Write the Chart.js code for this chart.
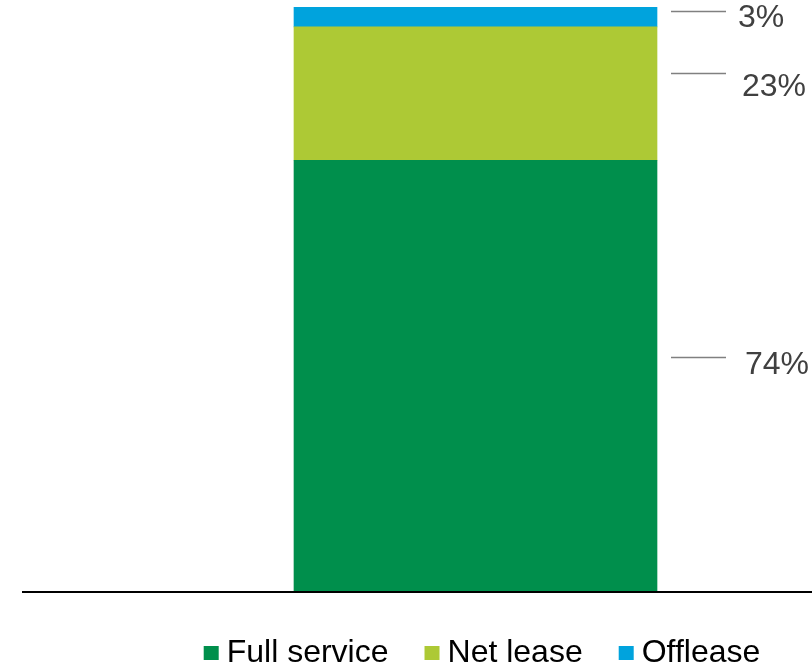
<!DOCTYPE html>
<html>
<head>
<meta charset="utf-8">
<script src="https://cdn.jsdelivr.net/npm/chart.js@4/dist/chart.umd.min.js"></script>
<style>
  html, body { margin: 0; padding: 0; background: #fff; }
  #wrap { width: 812px; height: 667px; position: relative; }
</style>
</head>
<body>
<div id="wrap"><canvas id="mixChart"></canvas></div>
<script>
// data
var categories = ["Mix"];
var seriesNames = ["Full service", "Net lease", "Offlease"];
var seriesValues = [[73.8], [22.8], [3.4]];
var seriesColors = ["#008F4C", "#ADC935", "#00A3DD"];
var valueLabels = ["74%", "23%", "3%"];

// leader line / label tweaks per segment (px)
var lineShift = [-19, -21, -6];
var textShift = [8, 14, 7];
var textGap = [88, 85, 81];

var datasets = [];
for (var i = 0; i < seriesNames.length; i++) {
    datasets.push({
        label: seriesNames[i],
        data: seriesValues[i],
        backgroundColor: seriesColors[i],
        hoverBackgroundColor: seriesColors[i],
        borderWidth: 0,
        barThickness: 363
    });
}

var FONT = "'Liberation Sans', Arial, sans-serif";

var sideLabels = {
    id: "sideLabels",
    afterDatasetsDraw: function (chart) {
        var ctx = chart.ctx;
        var y = chart.scales.y;
        var area = chart.chartArea;

        // baseline
        ctx.save();
        ctx.strokeStyle = "#000";
        ctx.lineWidth = 2;
        ctx.beginPath();
        var by = Math.round(y.getPixelForValue(0));
        ctx.moveTo(22, by);
        ctx.lineTo(area.right, by);
        ctx.stroke();

        var bottom = 0;
        for (var i = 0; i < chart.data.datasets.length; i++) {
            var v = chart.data.datasets[i].data[0];
            var bar = chart.getDatasetMeta(i).data[0];
            var mid = y.getPixelForValue(bottom + v / 2);
            bottom += v;
            var ly = Math.round(mid + lineShift[i]) + 0.5;
            var x0 = bar.x + bar.width / 2;

            ctx.strokeStyle = "#808080";
            ctx.lineWidth = 1.5;
            ctx.beginPath();
            ctx.moveTo(x0 + 14, ly);
            ctx.lineTo(x0 + 69, ly);
            ctx.stroke();

            ctx.fillStyle = "#404040";
            ctx.font = "32px " + FONT;
            ctx.textAlign = "left";
            ctx.textBaseline = "middle";
            ctx.fillText(valueLabels[i], x0 + textGap[i], ly + textShift[i]);
        }
        ctx.restore();
    },
    afterDraw: function (chart) {
        // legend along the bottom
        var ctx = chart.ctx;
        ctx.save();
        ctx.font = "32px " + FONT;
        var box = 15, gap = 8, space = 36;
        var total = 0;
        var items = chart.data.datasets;
        for (var i = 0; i < items.length; i++) {
            total += box + gap + ctx.measureText(items[i].label).width;
            if (i < items.length - 1) total += space;
        }
        var x = 482 - total / 2;
        var cy = 653;
        for (var j = 0; j < items.length; j++) {
            ctx.fillStyle = items[j].backgroundColor;
            ctx.fillRect(x, cy - 7, box, 14);
            x += box + gap;
            ctx.fillStyle = "#000";
            ctx.textAlign = "left";
            ctx.textBaseline = "middle";
            ctx.fillText(items[j].label, x, cy);
            x += ctx.measureText(items[j].label).width + space;
        }
        ctx.restore();
    }
};

var canvas = document.getElementById("mixChart");
var chart = new Chart(canvas.getContext("2d"), {
    type: "bar",
    data: {
        labels: categories,
        datasets: datasets
    },
    options: {
        responsive: true,
        maintainAspectRatio: false,
        animation: false,
        layout: {
            padding: { left: 139, right: 0, top: 7, bottom: 75 }
        },
        plugins: {
            legend: { display: false },
            tooltip: { enabled: false }
        },
        scales: {
            x: { stacked: true, display: false },
            y: { stacked: true, min: 0, max: 100, display: false }
        }
    },
    plugins: [sideLabels]
});
</script>
</body>
</html>
